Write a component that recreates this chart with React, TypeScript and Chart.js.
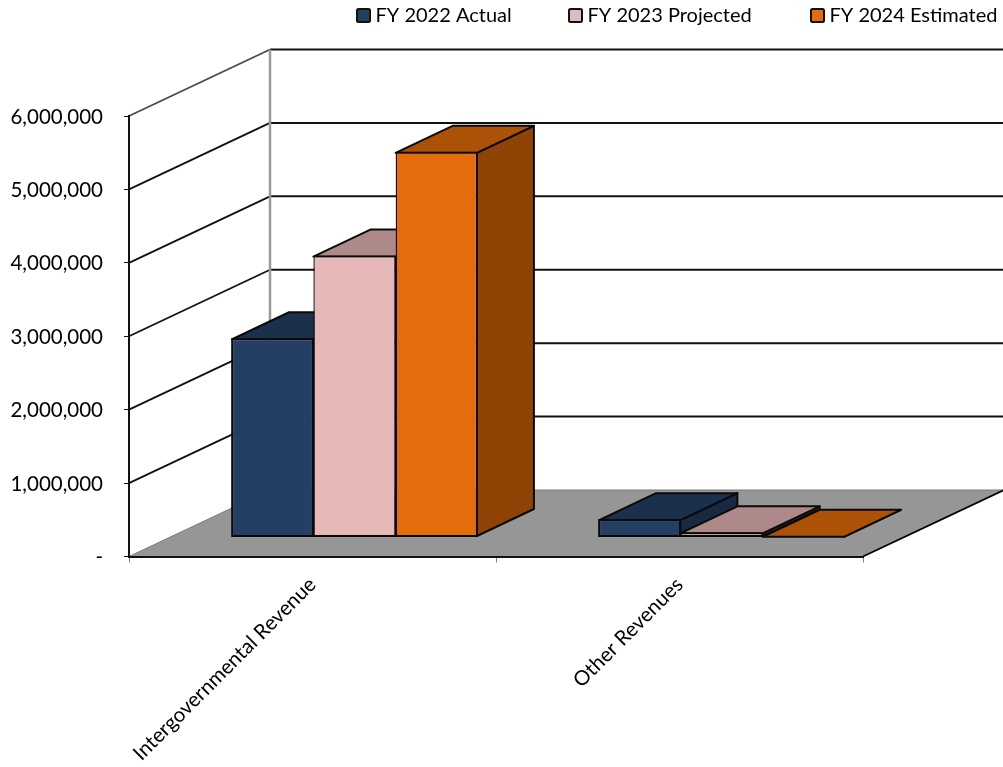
import React, { useEffect, useRef } from "react";
import { Chart, registerables } from "chart.js";

Chart.register(...registerables);

const categories = ["Intergovernmental Revenue", "Other Revenues"];
const seriesNames = ["FY 2022 Actual", "FY 2023 Projected", "FY 2024 Estimated"];
const fy2022 = [2714000, 250000];
const fy2023 = [3840000, 70000];
const fy2024 = [5253000, 12000];
const frontColors = ["#243F64", "#E6B8B7", "#E46C0A"];
const topColors = ["#1B304D", "#AD8A89", "#AB5207"];
const sideColors = ["#172A42", "#8F7271", "#8F4406"];
// Neighbouring bars share one edge line, so their inner borders are thinner.
const borderWidths = [
  { top: 2, bottom: 2, left: 2, right: 1.4 },
  { top: 2, bottom: 2, left: 1.4, right: 1.4 },
  { top: 2, bottom: 2, left: 1.4, right: 2 },
];

const FONT = "Lato, 'Open Sans', sans-serif";
const WALL_DX = 141;
const WALL_DY = -66.5;
const BAR_SHIFT_X = 42;
const BAR_SHIFT_Y = -19;
const BAR_DEPTH_X = 57;
const BAR_DEPTH_Y = -27;
const LEGEND_BOXES = [357, 569, 811];
const EDGE = "#0A0A0A";

function polygon(ctx: CanvasRenderingContext2D, pts: number[][], fill: string) {
  ctx.beginPath();
  pts.forEach(([x, y], i) => (i ? ctx.lineTo(x, y) : ctx.moveTo(x, y)));
  ctx.closePath();
  ctx.fillStyle = fill;
  ctx.fill();
  ctx.strokeStyle = EDGE;
  ctx.lineWidth = 2;
  ctx.lineJoin = "round";
  ctx.stroke();
}

// Back wall, side wall and floor of the box the bars stand in.
const roomPlugin = {
  id: "room",
  beforeDraw(chart: any) {
    const { ctx, chartArea } = chart;
    const yScale = chart.scales.y;
    const { left, right, bottom } = chartArea;
    const backLeft = left + WALL_DX;
    const backRight = right + WALL_DX;
    ctx.save();
    yScale.ticks.forEach((t: any) => {
      if (t.value === 0) return;
      const py = yScale.getPixelForValue(t.value);
      const isTop = t.value === yScale.max;
      ctx.beginPath();
      ctx.moveTo(left, py);
      ctx.lineTo(backLeft, py + WALL_DY);
      ctx.strokeStyle = isTop ? "#4A4A4A" : "#111111";
      ctx.lineWidth = 1.8;
      ctx.stroke();
      ctx.beginPath();
      ctx.moveTo(backLeft, py + WALL_DY);
      ctx.lineTo(backRight, py + WALL_DY);
      ctx.strokeStyle = "#111111";
      ctx.lineWidth = 2;
      ctx.stroke();
    });
    const floorBack = bottom + WALL_DY;
    ctx.beginPath();
    ctx.moveTo(backLeft, yScale.getPixelForValue(yScale.max) + WALL_DY);
    ctx.lineTo(backLeft, floorBack);
    ctx.strokeStyle = "#999999";
    ctx.lineWidth = 2.5;
    ctx.stroke();
    ctx.beginPath();
    ctx.moveTo(left, bottom);
    ctx.lineTo(backLeft, floorBack);
    ctx.lineTo(backRight, floorBack);
    ctx.lineTo(right, bottom);
    ctx.closePath();
    ctx.fillStyle = "#969696";
    ctx.fill();
    ctx.strokeStyle = "#7A7A7A";
    ctx.lineWidth = 1;
    ctx.beginPath();
    ctx.moveTo(left, bottom);
    ctx.lineTo(backLeft, floorBack);
    ctx.lineTo(backRight, floorBack);
    ctx.stroke();
    ctx.beginPath();
    ctx.moveTo(backRight, floorBack);
    ctx.lineTo(right, bottom);
    ctx.strokeStyle = "#000000";
    ctx.lineWidth = 1.8;
    ctx.stroke();
    ctx.restore();
  },
};

// Paints the series left to right so each bar covers its left neighbour's side
// face: top and side faces first, then the library's own front face.
const extrudePlugin = {
  id: "extrude",
  beforeDatasetsDraw(chart: any) {
    const { ctx } = chart;
    chart.getSortedVisibleDatasetMetas().forEach((meta: any) => {
      const i = meta.index;
      const bw = borderWidths[i];
      ctx.save();
      ctx.translate(BAR_SHIFT_X, BAR_SHIFT_Y);
      meta.data.forEach((bar: any) => {
        const half = bar.width / 2;
        // Faces follow the centre line of the front face's inset border.
        const x0 = bar.x - half + (bw.left === 2 ? 1 : 0);
        const x1 = bar.x + half - (bw.right === 2 ? 1 : 0);
        const mid = (bar.y + bar.base) / 2;
        const yt = Math.min(bar.y + 1, mid);
        const yb = Math.max(bar.base - 1, mid);
        polygon(ctx, [[x1, yt], [x1 + BAR_DEPTH_X, yt + BAR_DEPTH_Y], [x1 + BAR_DEPTH_X, yb + BAR_DEPTH_Y], [x1, yb]], sideColors[i]);
        polygon(ctx, [[x0, yt], [x0 + BAR_DEPTH_X, yt + BAR_DEPTH_Y], [x1 + BAR_DEPTH_X, yt + BAR_DEPTH_Y], [x1, yt]], topColors[i]);
      });
      meta.controller.draw();
      ctx.restore();
    });
    return false;
  },
};

// Legend row across the top right, with its text set tight against the swatches.
const legendRowPlugin = {
  id: "legendRow",
  afterDraw(chart: any) {
    const { ctx } = chart;
    ctx.save();
    ctx.font = `20px ${FONT}`;
    ctx.textBaseline = "middle";
    ctx.textAlign = "left";
    chart.data.datasets.forEach((ds: any, i: number) => {
      const x = LEGEND_BOXES[i];
      ctx.fillStyle = ds.backgroundColor;
      ctx.strokeStyle = "#111111";
      ctx.lineWidth = 2;
      ctx.beginPath();
      ctx.roundRect(x, 9, 13, 13, 1.5);
      ctx.fill();
      ctx.stroke();
      ctx.fillStyle = "#000000";
      ctx.fillText(ds.label, x + 18.5, 16);
    });
    ctx.restore();
  },
};

export default function App() {
  const canvasRef = useRef<HTMLCanvasElement | null>(null);

  useEffect(() => {
    const series = [fy2022, fy2023, fy2024];
    const chart = new Chart(canvasRef.current as HTMLCanvasElement, {
      type: "bar",
      data: {
        labels: categories,
        datasets: seriesNames.map((label, i) => ({
          label,
          data: series[i],
          backgroundColor: frontColors[i],
          borderColor: EDGE,
          borderWidth: borderWidths[i],
          borderSkipped: false,
          categoryPercentage: 0.6725,
          barPercentage: 1,
          clip: false,
        })),
      } as any,
      options: {
        responsive: false,
        animation: false,
        layout: { padding: { top: 116, right: 140, left: 0, bottom: 0 } },
        plugins: { legend: { display: false }, tooltip: { enabled: false } },
        scales: {
          x: {
            afterFit(scale: any) {
              scale.height = 210.5;
              scale.paddingLeft = 0;
              scale.paddingRight = 0;
            },
            grid: { offset: true, drawOnChartArea: false, drawTicks: true, tickLength: 6, color: "#808080", tickColor: "#808080" },
            border: { display: true, color: "#111111", width: 2 },
            ticks: {
              autoSkip: false,
              minRotation: 45,
              maxRotation: 45,
              padding: 10,
              color: "#000000",
              font: { family: FONT, size: 20.5 },
            },
          },
          y: {
            min: 0,
            max: 6000000,
            afterFit(scale: any) {
              scale.width = 129;
              scale.paddingTop = 0;
              scale.paddingBottom = 0;
            },
            grid: { drawOnChartArea: false, drawTicks: true, tickLength: 5, color: "#111111", tickColor: "#111111" },
            border: { display: true, color: "#111111", width: 2 },
            ticks: {
              stepSize: 1000000,
              padding: 21,
              labelOffset: 1,
              color: "#000000",
              font: { family: FONT, size: 20.5 },
              callback: (v: any) => (v === 0 ? "-" : Number(v).toLocaleString("en-US")),
            },
          },
        },
      } as any,
      plugins: [roomPlugin, extrudePlugin, legendRowPlugin],
    });
    return () => chart.destroy();
  }, []);

  return (
    <div style={{ position: "absolute", left: 0, top: 0, width: 1003, height: 767, background: "#fff" }}>
      <canvas ref={canvasRef} width={1003} height={767} style={{ display: "block" }} />
    </div>
  );
}
